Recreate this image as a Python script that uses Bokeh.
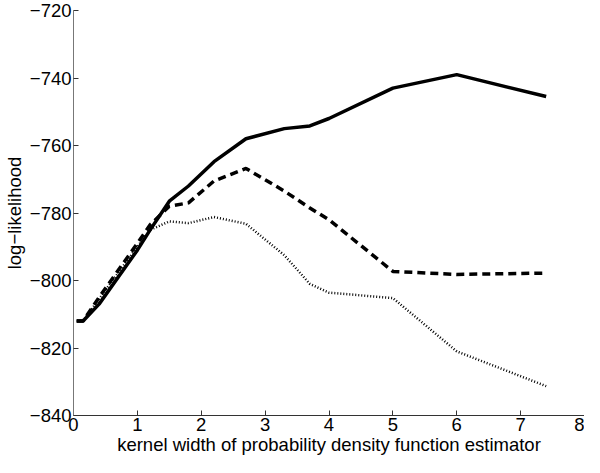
from bokeh.plotting import figure
from bokeh.models import Range1d, FixedTicker
from bokeh.embed import file_html
from bokeh.resources import INLINE

# data
kernel_width = [0.05, 0.15, 0.4, 1.0, 1.2, 1.5, 1.8, 2.2, 2.7, 3.3, 3.7, 4.0, 5.0, 6.0, 7.4]
loglik_solid = [-812, -812, -807, -791, -785, -776.5, -772, -764.8, -758, -755, -754.2, -752, -743, -739, -745.5]
loglik_dashed = [-812, -812, -805, -789, -783.5, -778, -777, -770.5, -766.8, -773.5, -778.5, -782, -797.3, -798.2, -797.8]
loglik_dotted = [-812, -812, -805.5, -790, -785, -782.5, -783, -781.2, -783.2, -792.5, -801, -803.6, -805.2, -821, -831.3]

x_ticks = [0, 1, 2, 3, 4, 5, 6, 7, 8]
y_ticks = [-840, -820, -800, -780, -760, -740, -720]
y_tick_labels = ["\u2212840", "\u2212820", "\u2212800", "\u2212780", "\u2212760", "\u2212740", "\u2212720"]

FONT = "Liberation Sans"

p = figure(width=584, height=457, output_backend="svg", toolbar_location=None,
           x_range=Range1d(0, 8), y_range=Range1d(-840, -720),
           min_border=0,
           min_border_left=60, min_border_right=0, min_border_top=10, min_border_bottom=40)
p.outline_line_color = None
p.grid.visible = False
p.background_fill_color = "white"
p.border_fill_color = "white"

p.line(kernel_width, loglik_solid, line_color="black", line_width=3.5)
p.line(kernel_width, loglik_dashed, line_color="black", line_width=3.5, line_dash="8 5")
p.line(kernel_width, loglik_dotted, line_color="black", line_width=2.5, line_dash="1 2")

p.xaxis.ticker = FixedTicker(ticks=x_ticks)
p.yaxis.ticker = FixedTicker(ticks=y_ticks)
p.yaxis.major_label_overrides = {t: l for t, l in zip(y_ticks, y_tick_labels)}
p.xaxis.axis_label = "kernel width of probability density function estimator"
p.yaxis.axis_label = "log\u2212likelihood"

for ax in (p.xaxis, p.yaxis):
    ax.major_tick_in = 5
    ax.major_tick_out = 0
    ax.minor_tick_in = 0
    ax.minor_tick_out = 0
    ax.major_label_text_font = FONT
    ax.major_label_text_font_size = "18.5px"
    ax.major_label_text_color = "black"
    ax.axis_label_text_font = FONT
    ax.axis_label_text_font_size = "18.5px"
    ax.axis_label_text_font_style = "normal"
    ax.axis_label_text_color = "black"
    ax.major_tick_line_color = "#333333"
p.xaxis.axis_line_color = "#333333"
p.yaxis.axis_line_color = "#777777"
p.xaxis.major_label_standoff = 2
p.xaxis.axis_label_standoff = 0
p.yaxis.major_label_standoff = 2
p.yaxis.axis_label_standoff = 2

open("out.html", "w").write(file_html(p, INLINE))
